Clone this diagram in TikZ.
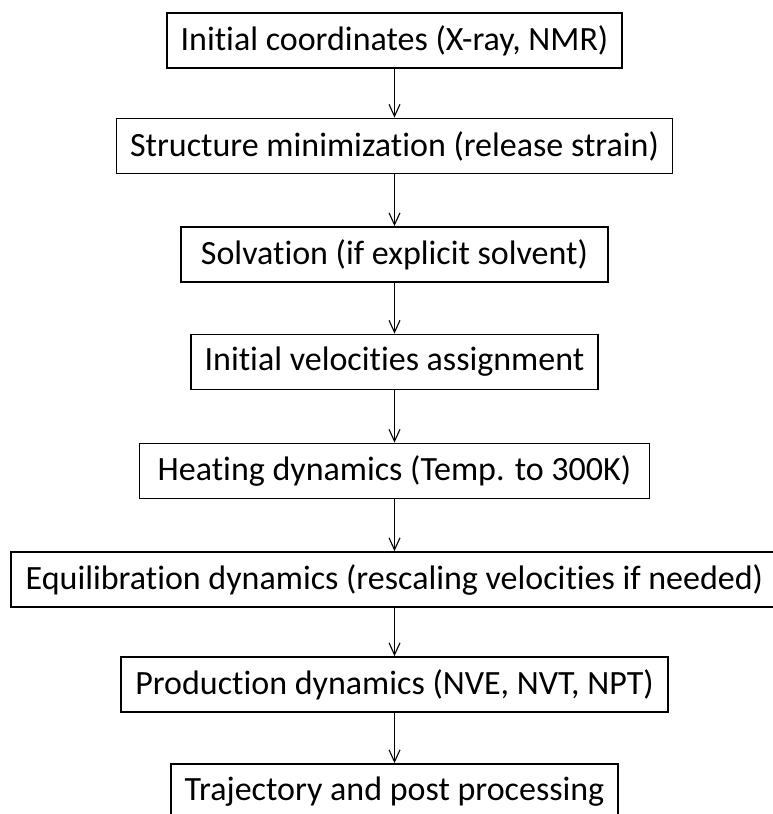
\documentclass[tikz,border=0pt]{standalone}
\usepackage{fontspec}
\setmainfont{Carlito}[Ligatures=NoCommon]
\usetikzlibrary{arrows.meta}

\begin{document}
\begin{tikzpicture}[x=1pt,y=1pt,yscale=-1,xscale=1,
    stage/.style={draw, line width=1.8pt, minimum height=55pt, inner sep=0pt,
      font=\fontsize{34}{40}\selectfont},
    flow/.style={line width=1.1pt, -{Straight Barb[length=12pt,width=11pt,line width=1.1pt]}}]
        %set diagram left start at 0, and has height of 814
        \useasboundingbox (0,0) rectangle (772,814);

        % Text Node
        \node [stage, minimum width=455pt] (coords) at (394.5,40.7) {Initial coordinates (X-ray, NMR)};
        % Text Node
        \node [stage, minimum width=556pt] (minim) at (394.5,146) {Structure minimization (release strain)};
        % Text Node
        \node [stage, minimum width=427pt] (solv) at (394.5,254.5) {Solvation (if explicit solvent)};
        % Text Node
        \node [stage, minimum width=407pt] (veloc) at (394.5,362) {Initial velocities assignment};
        % Text Node
        \node [stage, minimum width=510pt] (heat) at (394.5,471) {Heating dynamics (Temp. to 300K)};
        % Text Node
        \node [stage, minimum width=767pt] (equil) at (394.5,579.5) {Equilibration dynamics (rescaling velocities if needed)};
        % Text Node
        \node [stage, minimum width=547pt] (prod) at (394.5,684.5) {Production dynamics (NVE, NVT, NPT)};
        % Text Node
        \node [stage, minimum width=447pt] (traj) at (394.5,791.5) {Trajectory and post processing};

        %Straight Lines
        \draw [flow] (coords) -- (minim);
        \draw [flow] (minim) -- (solv);
        \draw [flow] (solv) -- (veloc);
        \draw [flow] (veloc) -- (heat);
        \draw [flow] (heat) -- (equil);
        \draw [flow] (equil) -- (prod);
        \draw [flow] (prod) -- (traj);

\end{tikzpicture}
\end{document}
